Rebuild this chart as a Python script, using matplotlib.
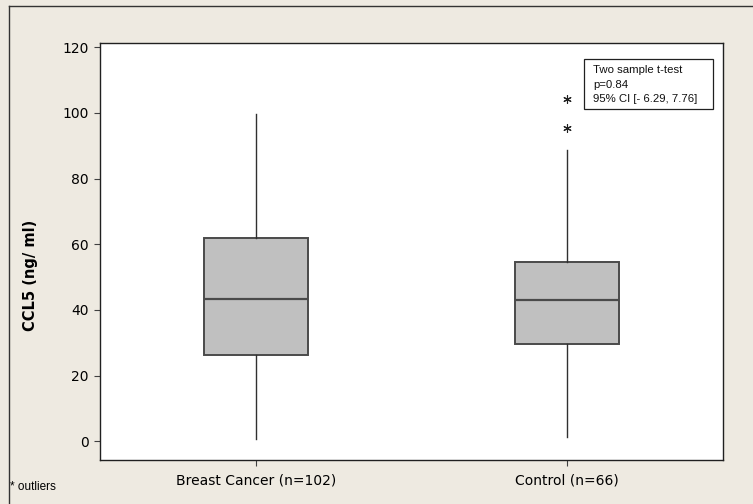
import matplotlib.pyplot as plt
from matplotlib.lines import Line2D
from matplotlib.patches import Rectangle

# group summaries
groups = ["Breast Cancer (n=102)", "Control (n=66)"]
whisker_low = [0.7, 1.4]
q1 = [26.3, 29.6]
median = [43.3, 43.0]
q3 = [61.8, 54.6]
whisker_high = [99.7, 88.7]
outliers = [[], [95.3, 104.2]]

y_ticks = [0, 20, 40, 60, 80, 100, 120]
test_lines = ["Two sample t-test", "p=0.84", "95% CI [- 6.29, 7.76]"]

BG = "#EEEAE1"

W, H = 753, 504
fig = plt.figure(figsize=(W / 100, H / 100), dpi=100, facecolor=BG)


def fx(px):
    return px / W


def fy(py):
    return 1 - py / H


ax = fig.add_axes([fx(100), fy(460), fx(623), 417 / H])
ax.set_facecolor("white")

stats = []
for i, name in enumerate(groups):
    stats.append(
        {
            "label": name,
            "whislo": whisker_low[i],
            "q1": q1[i],
            "med": median[i],
            "q3": q3[i],
            "whishi": whisker_high[i],
            "fliers": outliers[i],
        }
    )

ax.bxp(
    stats,
    positions=[1, 2],
    widths=0.335,
    patch_artist=True,
    showcaps=False,
    boxprops=dict(facecolor="#C0C0C0", edgecolor="#4A4A4A", linewidth=1.4),
    medianprops=dict(color="#4A4A4A", linewidth=1.6),
    whiskerprops=dict(color="#303030", linewidth=1.0),
    flierprops=dict(marker=(6, 2, 0), markersize=6, markeredgecolor="#202020", markeredgewidth=0.8),
)

ax.set_xlim(0.5, 2.5)
ax.set_ylim(-5.7, 121.3)
ax.set_yticks(y_ticks)
ax.set_yticklabels([str(t) for t in y_ticks], fontsize=10, family="DejaVu Sans")
ax.set_xticks([1, 2])
ax.set_xticklabels(groups, fontsize=10, family="DejaVu Sans")
ax.tick_params(axis="both", direction="out", length=4, width=0.8, color="#404040", pad=4)
ax.tick_params(axis="x", pad=6)
for spine in ax.spines.values():
    spine.set_color("#202020")
    spine.set_linewidth(1.0)

fig.text(fx(31), fy(275), "CCL5 (ng/ ml)", rotation=90, ha="center", va="center",
         fontsize=10.5, fontweight="bold", family="DejaVu Sans")
fig.text(fx(10), fy(487), "* outliers", ha="left", va="center", fontsize=8.5, family="Liberation Sans")

# t-test annotation box
fig.patches.append(Rectangle((fx(584), fy(109)), fx(129), 50 / H, transform=fig.transFigure,
                             facecolor="white", edgecolor="#202020", linewidth=0.9))
for i, line in enumerate(test_lines):
    fig.text(fx(593), fy(70 + i * 14.5), line, ha="left", va="center", fontsize=8.2,
             family="Liberation Sans", color="#111111")

# frame of the figure panel
fig.lines.append(Line2D([fx(8.5), fx(8.5)], [0, fy(5.5)], transform=fig.transFigure, color="#333333", lw=1))
fig.lines.append(Line2D([fx(8.5), 1], [fy(5.5), fy(5.5)], transform=fig.transFigure, color="#333333", lw=1))

fig.savefig("out.png", dpi=100, facecolor=BG)
